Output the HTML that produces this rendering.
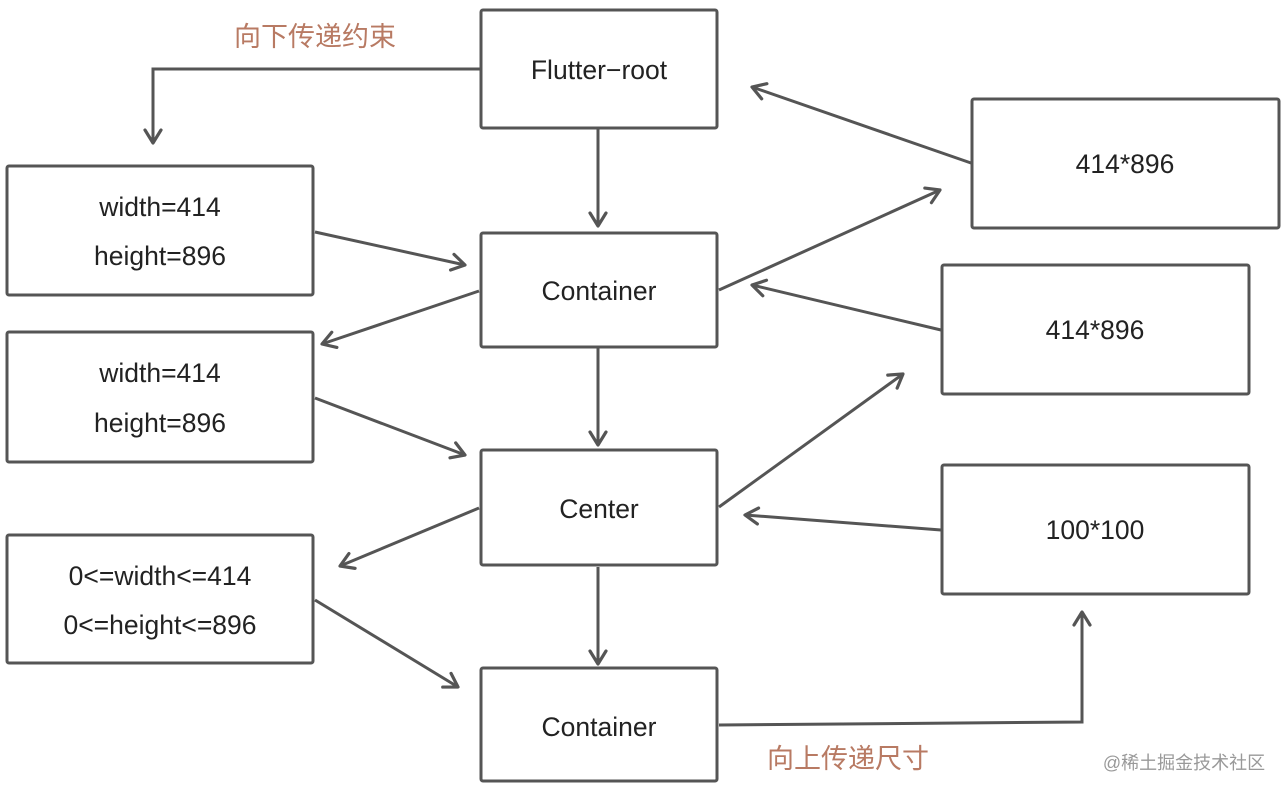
<!DOCTYPE html>
<html><head><meta charset="utf-8"><style>
html,body{margin:0;padding:0;background:#fff;}
svg{display:block;}
text{font-family:"Liberation Sans","Noto Sans CJK SC",sans-serif;}
</style></head><body>
<svg width="1285" height="794" viewBox="0 0 1285 794" xmlns="http://www.w3.org/2000/svg">
<defs>
<marker id="a" markerWidth="20" markerHeight="20" refX="15" refY="10" orient="auto" markerUnits="userSpaceOnUse">
<path d="M2,2 L15,10 L2,18" fill="none" stroke="#555" stroke-width="3.2" stroke-linecap="round" stroke-linejoin="round"/>
</marker>
</defs>
<g fill="#fff" stroke="#555" stroke-width="3">
<rect x="481" y="10" width="236" height="118" rx="2"/>
<rect x="481" y="233" width="236" height="114" rx="2"/>
<rect x="481" y="450" width="236" height="115" rx="2"/>
<rect x="481" y="668" width="236" height="113" rx="2"/>
<rect x="7" y="166" width="306" height="129" rx="2"/>
<rect x="7" y="332" width="306" height="130" rx="2"/>
<rect x="7" y="535" width="306" height="128" rx="2"/>
<rect x="972" y="99" width="307" height="129" rx="2"/>
<rect x="942" y="265" width="307" height="129" rx="2"/>
<rect x="942" y="465" width="307" height="129" rx="2"/>
</g>
<g fill="none" stroke="#555" stroke-width="3" marker-end="url(#a)">
<polyline points="480,69 153,69 153,143"/>
<line x1="598" y1="129" x2="598" y2="226"/>
<line x1="315" y1="232" x2="465" y2="265"/>
<line x1="479" y1="291" x2="322" y2="344"/>
<line x1="315" y1="398" x2="465" y2="455"/>
<line x1="598" y1="348" x2="598" y2="445"/>
<line x1="479" y1="508" x2="340" y2="566"/>
<line x1="315" y1="600" x2="458" y2="687"/>
<line x1="598" y1="567" x2="598" y2="664"/>
<polyline points="719,725 1082,722 1082,612"/>
<line x1="719" y1="507" x2="903" y2="374"/>
<line x1="941" y1="530" x2="745" y2="515"/>
<line x1="719" y1="290" x2="940" y2="190"/>
<line x1="941" y1="330" x2="752" y2="285"/>
<line x1="971" y1="163" x2="752" y2="87"/>
</g>
<g font-size="26.5" fill="#222" text-anchor="middle">
<text x="599" y="79">Flutter−root</text>
<text x="599" y="300">Container</text>
<text x="599" y="518">Center</text>
<text x="599" y="736">Container</text>
<text x="160" y="216">width=414</text>
<text x="160" y="265">height=896</text>
<text x="160" y="382">width=414</text>
<text x="160" y="432">height=896</text>
<text x="160" y="585">0&lt;=width&lt;=414</text>
<text x="160" y="634">0&lt;=height&lt;=896</text>
<text x="1125" y="173">414*896</text>
<text x="1095" y="339">414*896</text>
<text x="1095" y="539">100*100</text>
</g>
<text x="315" y="46" font-size="27" fill="#b87a63" text-anchor="middle">向下传递约束</text>
<text x="848" y="768" font-size="27" fill="#b87a63" text-anchor="middle">向上传递尺寸</text>
<text x="1184" y="769" font-size="18" fill="#999" text-anchor="middle">@稀土掘金技术社区</text>
</svg>
</body></html>
